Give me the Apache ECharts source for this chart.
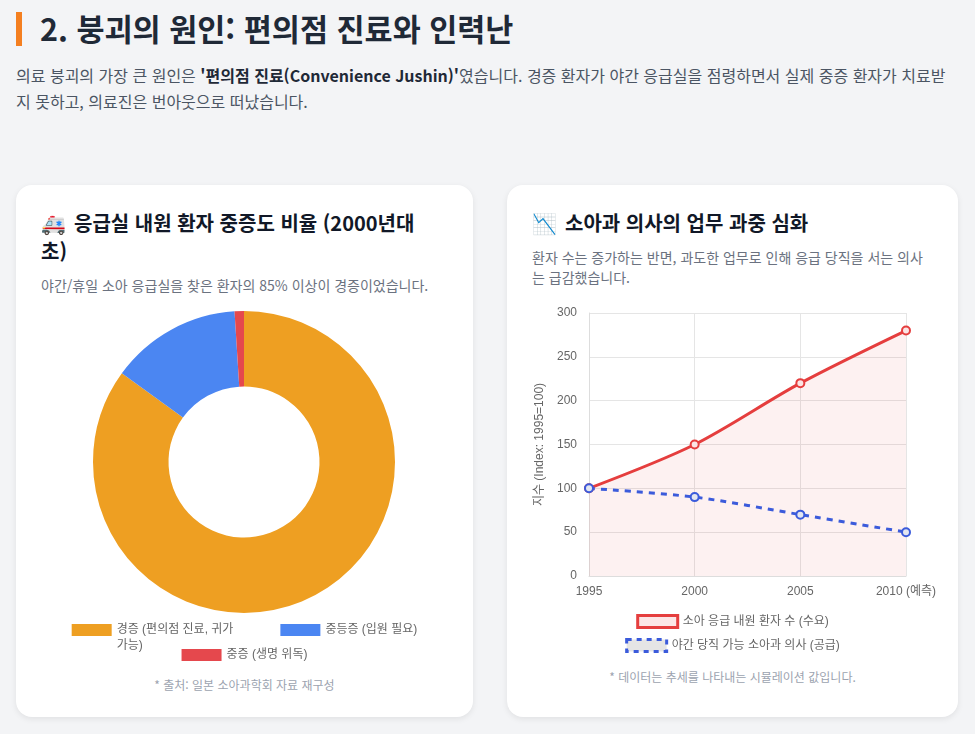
<!DOCTYPE html>
<html lang="ko">
<head>
<meta charset="utf-8">
<title>붕괴의 원인</title>
<script src="https://cdn.jsdelivr.net/npm/echarts@6/dist/echarts.min.js"></script>
<style>
  html, body { margin: 0; padding: 0; }
  body {
    width: 975px; height: 734px; overflow: hidden; position: relative;
    background: #f3f4f6;
    font-family: "Noto Sans CJK KR", "Noto Sans", sans-serif;
  }
  .bar { position: absolute; left: 16px; top: 12px; width: 6px; height: 34px; background: #f47f20; }
  h2 {
    position: absolute; left: 40px; top: 4px; margin: 0;
    font-size: 30.5px; font-weight: 700; color: #1f2937; line-height: 48px; white-space: nowrap;
  }
  .lead {
    position: absolute; left: 16px; top: 62px; margin: 0;
    font-size: 16px; line-height: 26px; color: #4b5563; white-space: nowrap;
  }
  .lead b { color: #1f2937; }
  .card {
    position: absolute; top: 185px; height: 532px; background: #fff;
    border-radius: 16px; box-shadow: 0 2px 6px rgba(0,0,0,0.08);
  }
  #c1 { left: 16px; width: 457px; }
  #c2 { left: 507px; width: 451px; }
  .card h3 {
    position: absolute; left: 25px; top: 24px; margin: 0; width: 420px;
    font-size: 20px; font-weight: 700; color: #111827; line-height: 28px; white-space: nowrap;
  }
  .card h3 .ico { display: inline-block; width: 33px; }
  .card p.sub {
    position: absolute; left: 25px; margin: 0;
    font-size: 14px; color: #6b7280; white-space: nowrap;
  }
  .note {
    position: absolute; left: 0; width: 100%; text-align: center; margin: 0;
    font-size: 12px; color: #9ca3af;
  }
  .chart { position: absolute; left: 0; top: 115px; width: 100%; height: 365px; }
</style>
</head>
<body>
<div class="bar"></div>
<h2>2. 붕괴의 원인: 편의점 진료와 인력난</h2>
<p class="lead">의료 붕괴의 가장 큰 원인은 <b>'편의점 진료(Convenience Jushin)'</b>였습니다. 경증 환자가 야간 응급실을 점령하면서 실제 중증 환자가 치료받<br>지 못하고, 의료진은 번아웃으로 떠났습니다.</p>

<div class="card" id="c1">
  <h3><span class="ico">🚑</span>응급실 내원 환자 중증도 비율 (2000년대<br>초)</h3>
  <p class="sub" style="top:90px; line-height:20px;">야간/휴일 소아 응급실을 찾은 환자의 85% 이상이 경증이었습니다.</p>
  <div class="chart" id="pie"></div>
  <p class="note" style="top:491px;">* 출처: 일본 소아과학회 자료 재구성</p>
</div>

<div class="card" id="c2">
  <h3><span class="ico">📉</span>소아과 의사의 업무 과중 심화</h3>
  <p class="sub" style="top:62px; line-height:20px;">환자 수는 증가하는 반면, 과도한 업무로 인해 응급 당직을 서는 의사<br>는 급감했습니다.</p>
  <div class="chart" id="line"></div>
  <p class="note" style="top:483px;">* 데이터는 추세를 나타내는 시뮬레이션 값입니다.</p>
</div>

<script>
// 중증도 비율 (%)
var severityLabels = ['경증 (편의점 진료, 귀가 가능)', '중등증 (입원 필요)', '중증 (생명 위독)'];
var severityValues = [85, 14, 1];
var severityColors = ['#ee9f22', '#4b86f2', '#e5484d'];

// 지수 추이 (1995=100)
var years = ['1995', '2000', '2005', '2010 (예측)'];
var patientIndex = [100, 150, 220, 280];
var doctorIndex = [100, 90, 70, 50];
var patientName = '소아 응급 내원 환자 수 (수요)';
var doctorName = '야간 당직 가능 소아과 의사 (공급)';

var chartFont = '"Liberation Sans", "Noto Sans CJK KR", sans-serif';
var textStyle = { fontFamily: chartFont, fontSize: 12, color: '#666' };

var pieChart = echarts.init(document.getElementById('pie'));
pieChart.setOption({
  textStyle: textStyle,
  legend: [
    {
      data: [severityLabels[0], severityLabels[1]],
      top: 301, left: 'center', itemWidth: 40, itemHeight: 12, itemGap: 47,
      icon: 'rect',
      textStyle: { fontFamily: chartFont, fontSize: 12, color: '#666', lineHeight: 16 },
      // 긴 라벨은 두 줄로, 상자는 첫 줄에 맞춤
      formatter: function (n) { return n === severityLabels[0] ? '\n경증 (편의점 진료, 귀가\n가능)' : n; },
      selectedMode: false
    },
    {
      data: [severityLabels[2]],
      top: 344, left: 'center', itemWidth: 40, itemHeight: 12,
      icon: 'rect',
      textStyle: textStyle,
      selectedMode: false
    }
  ],
  series: [{
    type: 'pie',
    radius: [75.5, 151],
    center: [228, 162],
    startAngle: 90,
    clockwise: true,
    label: { show: false },
    labelLine: { show: false },
    silent: true,
    itemStyle: { borderColor: '#fff', borderWidth: 0 },
    data: severityLabels.map(function (n, i) {
      return { name: n, value: severityValues[i], itemStyle: { color: severityColors[i] } };
    })
  }]
});

var lineChart = echarts.init(document.getElementById('line'));
lineChart.setOption({
  textStyle: textStyle,
  grid: { left: 82, right: 52, top: 13, bottom: 89 },
  legend: [
    {
      data: [{ name: patientName, icon: 'rect',
        itemStyle: { color: 'rgba(229,62,62,0.13)', borderColor: '#e53e3e', borderWidth: 3 } }],
      top: 309, left: 'center', itemWidth: 40, itemHeight: 12,
      textStyle: textStyle, selectedMode: false
    },
    {
      data: [{ name: doctorName, icon: 'rect',
        itemStyle: { color: 'rgba(0,0,0,0.1)', borderColor: '#3b5bdb', borderWidth: 3, borderType: [5, 5] } }],
      top: 333, left: 'center', itemWidth: 40, itemHeight: 12,
      textStyle: textStyle, selectedMode: false
    }
  ],
  xAxis: {
    type: 'category',
    data: years,
    boundaryGap: false,
    axisLine: { lineStyle: { color: '#ddd' } },
    axisTick: { show: false },
    axisLabel: { color: '#666', fontSize: 12, margin: 10 },
    splitLine: { show: true, lineStyle: { color: '#e5e5e5' } }
  },
  yAxis: {
    type: 'value',
    min: 0, max: 300, interval: 50,
    name: '지수 (Index: 1995=100)',
    nameLocation: 'middle',
    nameGap: 39,
    nameTextStyle: { color: '#666', fontSize: 12 },
    axisLine: { show: true, lineStyle: { color: '#ddd' } },
    axisLabel: { color: '#666', fontSize: 12, margin: 12 },
    splitLine: { lineStyle: { color: '#e5e5e5' } }
  },
  series: [
    {
      name: patientName,
      type: 'line',
      data: patientIndex,
      smooth: 0.3,
      symbol: 'circle',
      symbolSize: 8,
      lineStyle: { color: '#e53e3e', width: 3 },
      itemStyle: { color: '#fbe4e4', borderColor: '#e53e3e', borderWidth: 2 },
      areaStyle: { color: 'rgba(229,62,62,0.1)', origin: 'start' },
      silent: true
    },
    {
      name: doctorName,
      type: 'line',
      data: doctorIndex,
      smooth: 0.3,
      symbol: 'circle',
      symbolSize: 8,
      lineStyle: { color: '#3b5bdb', width: 3, type: [6, 6] },
      itemStyle: { color: '#e3e6f0', borderColor: '#3b5bdb', borderWidth: 2 },
      silent: true
    }
  ]
});
</script>
</body>
</html>
